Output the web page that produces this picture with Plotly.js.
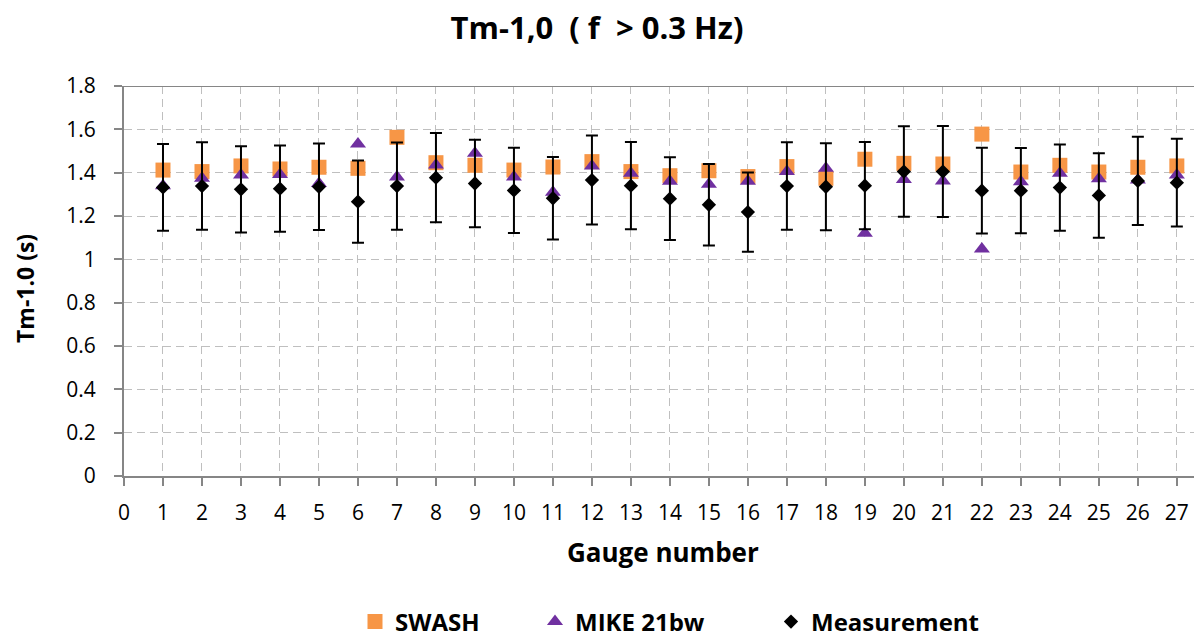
<!DOCTYPE html>
<html>
<head>
<meta charset="utf-8">
<script src="https://cdn.plot.ly/plotly-3.0.1.min.js"></script>
<style>html,body{margin:0;padding:0;background:#fff;}#chart{width:1194px;height:640px;}</style>
</head>
<body>
<div id="chart"></div>
<script>
const gauges = [1,2,3,4,5,6,7,8,9,10,11,12,13,14,15,16,17,18,19,20,21,22,23,24,25,26,27];
const swash = [1.412,1.405,1.431,1.417,1.425,1.420,1.563,1.446,1.434,1.412,1.426,1.451,1.405,1.386,1.409,1.382,1.428,1.374,1.462,1.443,1.440,1.578,1.403,1.434,1.403,1.425,1.431];
const mike = [1.340,1.374,1.389,1.392,1.350,1.532,1.380,1.435,1.490,1.380,1.310,1.431,1.397,1.360,1.346,1.360,1.405,1.420,1.120,1.369,1.362,1.048,1.358,1.397,1.372,1.366,1.389];
const measurement = [1.332,1.338,1.323,1.326,1.335,1.266,1.338,1.377,1.350,1.318,1.282,1.366,1.340,1.280,1.252,1.218,1.338,1.335,1.340,1.405,1.405,1.317,1.317,1.331,1.295,1.362,1.354];
const measError = [0.200,0.202,0.199,0.199,0.200,0.190,0.201,0.206,0.202,0.197,0.190,0.205,0.201,0.191,0.188,0.183,0.202,0.201,0.201,0.209,0.210,0.198,0.197,0.199,0.195,0.204,0.202];
const xTicks = [0,1,2,3,4,5,6,7,8,9,10,11,12,13,14,15,16,17,18,19,20,21,22,23,24,25,26,27];
const yTicks = [0,0.2,0.4,0.6,0.8,1,1.2,1.4,1.6,1.8];
const yTickText = ["0","0.2","0.4","0.6","0.8","1","1.2","1.4","1.6","1.8"];

const FONT = "'Open Sans', sans-serif";
const gridColor = "#BFBFBF";
const axisColor = "#868686";
const legendFont = {family: FONT, size: 24, weight: 700, color: "#000"};

const traces = [
  {
    x: gauges, y: swash, name: "SWASH", type: "scatter", mode: "markers", legend: "legend",
    marker: {symbol: "square", size: 15, color: "#F79646"}
  },
  {
    x: gauges, y: mike, name: "MIKE 21bw", type: "scatter", mode: "markers", legend: "legend2",
    marker: {symbol: "triangle-up", size: 14, color: "#7030A0"}
  },
  {
    x: gauges, y: measurement, name: "Measurement", type: "scatter", mode: "markers", legend: "legend3",
    marker: {symbol: "diamond", size: 11, color: "#000000"},
    error_y: {type: "data", array: measError, visible: true, color: "#000000", thickness: 2, width: 6}
  }
];

function mkLegend(px) {
  return {
    orientation: "h", x: px/1194, xref: "container", xanchor: "left",
    y: 1 - 622/640, yref: "container", yanchor: "middle",
    font: legendFont, itemwidth: 30, bgcolor: "rgba(0,0,0,0)", borderwidth: 0
  };
}

const layout = {
  width: 1194, height: 640,
  paper_bgcolor: "#ffffff", plot_bgcolor: "#ffffff",
  margin: {l: 124, r: 0, t: 86, b: 164},
  font: {family: FONT, color: "#000000", size: 21},
  title: {
    text: "Tm-1,0 \u00a0( f \u00a0> 0.3 Hz)",
    font: {family: FONT, size: 31, weight: 700, color: "#000"},
    x: 0.5, xref: "container", xanchor: "center",
    y: 1 - 28/640, yref: "container", yanchor: "middle"
  },
  showlegend: true,
  legend: mkLegend(355),
  legend2: mkLegend(535),
  legend3: mkLegend(771),
  xaxis: {
    range: [0, 27.44], tickvals: xTicks, ticktext: xTicks.map(String),
    showgrid: true, gridcolor: gridColor, gridwidth: 1, griddash: "8px,5px",
    showline: true, linecolor: axisColor, linewidth: 2,
    ticks: "outside", ticklen: 8, tickcolor: axisColor, tickwidth: 2,
    tickfont: {family: FONT, size: 21, color: "#000"},
    ticklabelstandoff: 9,
    zeroline: false, fixedrange: true
  },
  yaxis: {
    range: [0, 1.8], tickvals: yTicks, ticktext: yTickText,
    showgrid: true, gridcolor: gridColor, gridwidth: 1, griddash: "8px,5px",
    showline: true, linecolor: axisColor, linewidth: 2,
    ticks: "outside", ticklen: 8, tickcolor: axisColor, tickwidth: 2,
    tickfont: {family: FONT, size: 21, color: "#000"},
    ticklabelstandoff: 14,
    zeroline: false, fixedrange: true
  },
  shapes: [
    {type: "line", xref: "paper", yref: "y", x0: 0, x1: 1, y0: 1.8, y1: 1.8,
     line: {color: axisColor, width: 2}}
  ],
  annotations: [
    {text: "Gauge number", xref: "paper", yref: "paper", x: (663-124)/1070, y: -(552-476)/390,
     xanchor: "center", yanchor: "middle", showarrow: false,
     font: {family: FONT, size: 26, weight: 700, color: "#000"}},
    {text: "Tm-1.0 (s)", xref: "paper", yref: "paper", x: -(124-25)/1070, y: (476-289)/390,
     xanchor: "center", yanchor: "middle", showarrow: false, textangle: -90,
     font: {family: FONT, size: 23, weight: 700, color: "#000"}}
  ]
};

Plotly.newPlot("chart", traces, layout, {staticPlot: true, displayModeBar: false});
</script>
</body>
</html>
